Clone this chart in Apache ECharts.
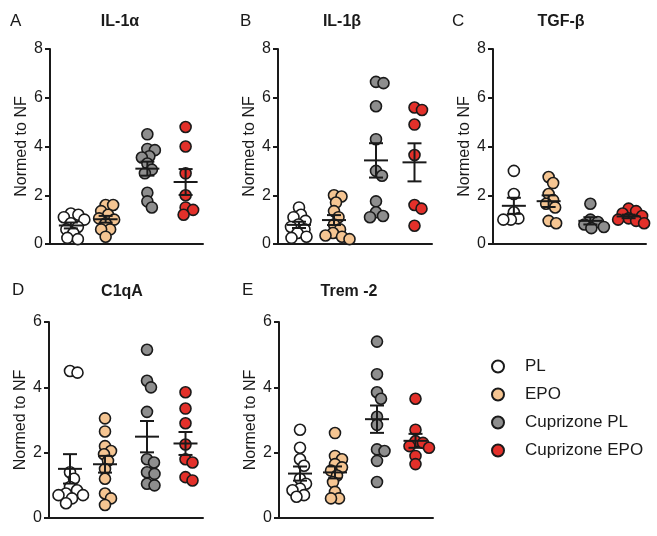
<!DOCTYPE html>
<html>
<head>
<meta charset="utf-8">
<script src="https://cdn.jsdelivr.net/npm/echarts@6/dist/echarts.min.js"></script>
<style>
  html, body { margin: 0; padding: 0; background: #fff; }
  #chart { width: 657px; height: 536px; }
</style>
</head>
<body>
<div id="chart"></div>
<script>
// groups and their colours
const groups = ['PL', 'EPO', 'Cuprizone PL', 'Cuprizone EPO'];
const groupColors = ['#ffffff', '#f5c592', '#8e8e8e', '#e3302a'];
const groupX = [0.6, 1.6, 2.8, 3.9];

const panelLetters = ['A', 'B', 'C', 'D', 'E'];
const panelTitles = ['IL-1α', 'IL-1β', 'TGF-β', 'C1qA', 'Trem -2'];
const panelMax = [8, 8, 8, 6, 6];

// values
const il1aPL = [1.25, 1.2, 1.1, 1.0, 0.85, 0.7, 0.6, 0.45, 0.25, 0.2];
const il1aEPO = [1.6, 1.6, 1.35, 1.2, 1.05, 1.0, 0.85, 0.6, 0.6, 0.3];
const il1aCupPL = [4.5, 3.9, 3.85, 3.6, 3.55, 3.3, 3.05, 2.9, 2.1, 1.75, 1.5];
const il1aCupEPO = [4.8, 4.0, 2.9, 2.0, 1.5, 1.4, 1.2];

const il1bPL = [1.5, 1.2, 1.1, 0.95, 0.8, 0.7, 0.6, 0.45, 0.3, 0.25];
const il1bEPO = [2.0, 1.95, 1.7, 1.35, 1.1, 0.8, 0.6, 0.45, 0.35, 0.3, 0.2];
const il1bCupPL = [6.65, 6.6, 5.65, 4.3, 3.0, 2.8, 1.75, 1.3, 1.15, 1.1];
const il1bCupEPO = [5.6, 5.5, 4.9, 3.65, 1.6, 1.45, 0.75];

const tgfbPL = [3.0, 2.05, 1.3, 1.05, 1.0, 1.0];
const tgfbEPO = [2.75, 2.5, 2.05, 1.8, 1.65, 1.5, 0.95, 0.85];
const tgfbCupPL = [1.65, 1.0, 0.9, 0.8, 0.7, 0.65];
const tgfbCupEPO = [1.45, 1.35, 1.25, 1.15, 1.05, 1.0, 0.95, 0.85];

const c1qaPL = [4.5, 4.45, 1.4, 1.2, 0.95, 0.85, 0.75, 0.7, 0.7, 0.6, 0.45];
const c1qaEPO = [3.05, 2.65, 2.2, 2.05, 1.95, 1.75, 1.5, 1.2, 0.75, 0.6, 0.4];
const c1qaCupPL = [5.15, 4.2, 4.0, 3.25, 1.8, 1.7, 1.4, 1.35, 1.05, 1.0];
const c1qaCupEPO = [3.85, 3.35, 2.9, 2.25, 1.8, 1.7, 1.25, 1.15];

const trem2PL = [2.7, 2.15, 1.8, 1.6, 1.2, 1.05, 0.9, 0.85, 0.7, 0.65];
const trem2EPO = [2.6, 1.9, 1.8, 1.65, 1.55, 1.45, 1.3, 1.1, 0.8, 0.6, 0.6];
const trem2CupPL = [5.4, 4.4, 3.85, 3.65, 3.1, 2.85, 2.1, 2.05, 1.75, 1.1];
const trem2CupEPO = [3.65, 2.7, 2.35, 2.3, 2.2, 2.15, 1.9, 1.65];

const panelData = [
    [il1aPL, il1aEPO, il1aCupPL, il1aCupEPO],
    [il1bPL, il1bEPO, il1bCupPL, il1bCupEPO],
    [tgfbPL, tgfbEPO, tgfbCupPL, tgfbCupEPO],
    [c1qaPL, c1qaEPO, c1qaCupPL, c1qaCupEPO],
    [trem2PL, trem2EPO, trem2CupPL, trem2CupEPO]
];

// layout
const grids = [
    {left: 50, top: 49, width: 153, height: 195},
    {left: 278, top: 49, width: 154, height: 195},
    {left: 493, top: 49, width: 153, height: 195},
    {left: 49, top: 322, width: 154, height: 196},
    {left: 279, top: 322, width: 154, height: 196}
];
const letterPos = [[10, 22], [240, 22], [452, 22], [12, 291], [242, 291]];
const titlePos = [[120, 22], [342, 22], [561, 22], [122, 292], [349, 292]];
const xMax = 4.4;
const font = '"Liberation Sans", Arial, sans-serif';
const ink = '#1a1a1a';

// simple beeswarm: returns horizontal offsets in pixels
function swarm(vals, pxPerY, dist) {
    let placed = [];
    let offs = new Array(vals.length);
    let order = vals.map((v, i) => i).sort((a, b) => vals[b] - vals[a]);
    order.forEach(i => {
        let y = vals[i] * pxPerY;
        for (let k = 0; k < 400; k++) {
            let cand = (k % 2 ? 1 : -1) * Math.ceil(k / 2) * 0.5;
            let ok = placed.every(p => (p.x - cand) * (p.x - cand) + (p.y - y) * (p.y - y) >= dist * dist);
            if (ok) {
                offs[i] = cand;
                placed.push({x: cand, y: y});
                break;
            }
        }
    });
    return offs;
}

function meanSem(vals) {
    let n = vals.length;
    let m = vals.reduce((a, b) => a + b, 0) / n;
    let sd = Math.sqrt(vals.reduce((a, b) => a + (b - m) * (b - m), 0) / (n - 1));
    return [m, sd / Math.sqrt(n)];
}

let xAxes = [], yAxes = [], series = [], graphics = [];

grids.forEach((g, p) => {
    xAxes.push({
        gridIndex: p, type: 'value', min: 0, max: xMax,
        axisLine: {show: true, onZero: false, lineStyle: {color: ink, width: 2}},
        axisTick: {show: false}, axisLabel: {show: false}, splitLine: {show: false}
    });
    yAxes.push({
        gridIndex: p, type: 'value', min: 0, max: panelMax[p], interval: 2,
        name: 'Normed to NF', nameLocation: 'middle', nameGap: 20, nameRotate: 90,
        nameTextStyle: {fontFamily: font, fontSize: 16, color: ink},
        axisLine: {show: true, lineStyle: {color: ink, width: 2}},
        axisTick: {show: true, length: 5, lineStyle: {color: ink, width: 2}},
        axisLabel: {fontFamily: font, fontSize: 16, color: ink, margin: 7},
        splitLine: {show: false}
    });

    let pxPerY = g.height / panelMax[p];
    let pxPerX = g.width / xMax;
    let bars = [];
    panelData[p].forEach((vals, gi) => {
        let offs = swarm(vals, pxPerY, 7.5);
        series.push({
            name: groups[gi], type: 'scatter', xAxisIndex: p, yAxisIndex: p,
            symbol: 'circle', symbolSize: 11, z: 2,
            itemStyle: {color: groupColors[gi], borderColor: ink, borderWidth: 1.6, opacity: 1},
            emphasis: {disabled: true},
            data: vals.map((v, i) => [groupX[gi] + offs[i] / pxPerX, v])
        });
        let ms = meanSem(vals);
        bars.push([groupX[gi], ms[0], ms[1]]);
    });
    series.push({
        type: 'custom', xAxisIndex: p, yAxisIndex: p, z: 5, silent: true,
        encode: {x: 0, y: 1},
        data: bars,
        renderItem: function (params, api) {
            let x = api.value(0), m = api.value(1), s = api.value(2);
            let c = api.coord([x, m]);
            let t = api.coord([x, m + s]);
            let b = api.coord([x, m - s]);
            let st = {stroke: ink, lineWidth: 2};
            return {
                type: 'group', children: [
                    {type: 'line', shape: {x1: c[0] - 12, y1: c[1], x2: c[0] + 12, y2: c[1]}, style: st},
                    {type: 'line', shape: {x1: c[0], y1: t[1], x2: c[0], y2: b[1]}, style: st},
                    {type: 'line', shape: {x1: c[0] - 7, y1: t[1], x2: c[0] + 7, y2: t[1]}, style: st},
                    {type: 'line', shape: {x1: c[0] - 7, y1: b[1], x2: c[0] + 7, y2: b[1]}, style: st}
                ]
            };
        }
    });

    graphics.push({
        type: 'text', left: letterPos[p][0], top: letterPos[p][1] - 9,
        style: {text: panelLetters[p], font: '17px ' + font, fill: ink}
    });
    graphics.push({
        type: 'text', x: titlePos[p][0], y: titlePos[p][1],
        style: {text: panelTitles[p], font: 'bold 16px ' + font, fill: ink, textAlign: 'center', textVerticalAlign: 'middle'}
    });
});

let chart = echarts.init(document.getElementById('chart'), null, {renderer: 'canvas'});
chart.setOption({
    animation: false,
    backgroundColor: '#ffffff',
    grid: grids,
    xAxis: xAxes,
    yAxis: yAxes,
    legend: {
        data: groups, orient: 'vertical', left: 486, top: 353,
        icon: 'circle', itemWidth: 12, itemHeight: 12, itemGap: 11,
        selectedMode: false,
        textStyle: {fontFamily: font, fontSize: 17, color: ink, padding: [0, 0, 0, 16]}
    },
    graphic: graphics,
    series: series
});
</script>
</body>
</html>
